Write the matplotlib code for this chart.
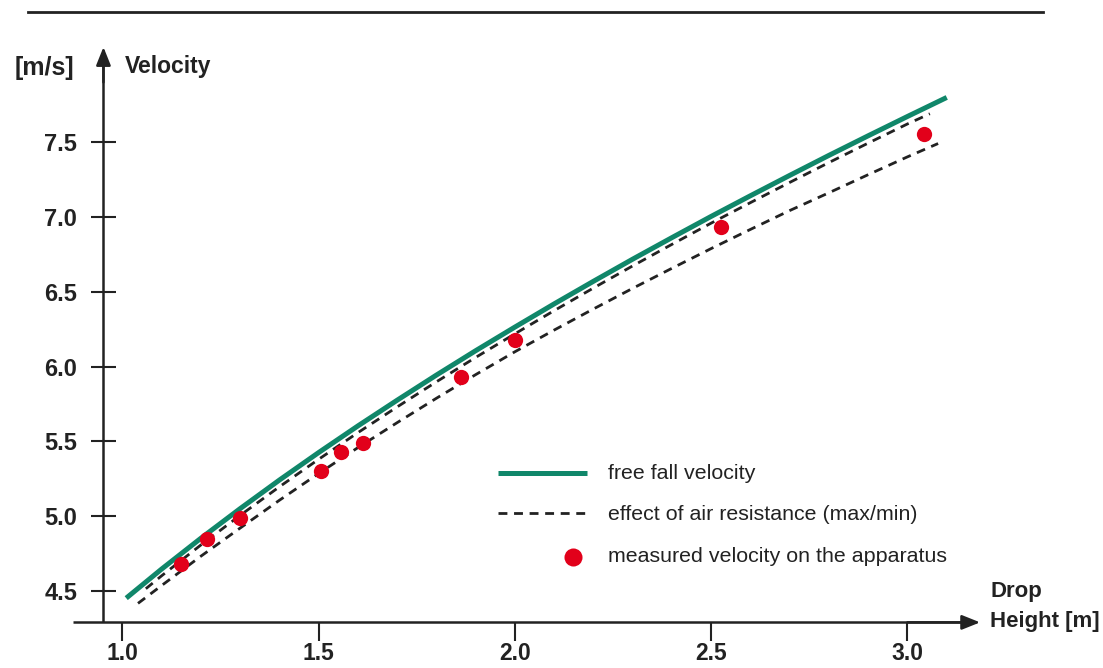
import matplotlib.pyplot as plt

# values
h_free = [1.01, 1.1, 1.2, 1.3, 1.4, 1.5, 1.6, 1.7, 1.8, 1.9, 2.0,
          2.1, 2.2, 2.3, 2.4, 2.5, 2.6, 2.7, 2.8, 2.9, 3.0, 3.1]
v_free = [4.452, 4.646, 4.852, 5.050, 5.241, 5.425, 5.603, 5.775, 5.943,
          6.106, 6.264, 6.419, 6.570, 6.718, 6.862, 7.004, 7.142, 7.278,
          7.412, 7.543, 7.672, 7.799]

h_air_max = [1.06, 1.1, 1.2, 1.3, 1.4, 1.5, 1.6, 1.7, 1.8, 1.9, 2.0,
             2.1, 2.2, 2.3, 2.4, 2.5, 2.6, 2.7, 2.8, 2.9, 3.0, 3.057]
v_air_max = [4.515, 4.601, 4.807, 5.005, 5.196, 5.380, 5.558, 5.730, 5.898,
             6.061, 6.219, 6.374, 6.525, 6.673, 6.817, 6.959, 7.096, 7.231,
             7.364, 7.494, 7.622, 7.690]

h_air_min = [1.04, 1.1, 1.2, 1.3, 1.4, 1.5, 1.6, 1.7, 1.8, 1.9, 2.0,
             2.1, 2.2, 2.3, 2.4, 2.5, 2.6, 2.7, 2.8, 2.9, 3.0, 3.078]
v_air_min = [4.417, 4.536, 4.732, 4.920, 5.106, 5.285, 5.458, 5.625, 5.788,
             5.946, 6.099, 6.244, 6.385, 6.523, 6.657, 6.789, 6.917, 7.043,
             7.162, 7.283, 7.402, 7.491]

h_meas = [1.15, 1.215, 1.30, 1.506, 1.557, 1.612, 1.863, 2.00, 2.524, 3.042]
v_meas = [4.68, 4.85, 4.99, 5.30, 5.43, 5.49, 5.93, 6.18, 6.93, 7.555]

xticks = [1.0, 1.5, 2.0, 2.5, 3.0]
yticks = [4.5, 5.0, 5.5, 6.0, 6.5, 7.0, 7.5]

labels = ['free fall velocity', 'effect of air resistance (max/min)',
          'measured velocity on the apparatus']

green = '#10876a'
red = '#e2001a'
ink = '#222222'

plt.rcParams['font.family'] = ['Liberation Sans', 'DejaVu Sans']

fig = plt.figure(figsize=(11.03, 6.68), dpi=100)
ax = fig.add_axes([0, 0, 1, 1])
ax.set_xlim(0.6885, 3.498)
ax.set_ylim(3.985, 8.4505)

# axes as crossing lines with arrows
for s in ['top', 'right']:
    ax.spines[s].set_visible(False)
ax.spines['left'].set_position(('data', 0.952))
ax.spines['left'].set_bounds(4.29, 8.05)
ax.spines['bottom'].set_position(('data', 4.29))
ax.spines['bottom'].set_bounds(0.874, 3.14)
for s in ['left', 'bottom']:
    ax.spines[s].set_linewidth(1.8)
    ax.spines[s].set_color(ink)
    ax.spines[s].set_capstyle('butt')

arrow = dict(arrowstyle='-|>,head_length=0.55,head_width=0.22', color=ink,
             lw=1.8, mutation_scale=20, shrinkA=0, shrinkB=0)
ax.annotate('', xy=(0.952, 8.136), xytext=(0.952, 7.9), arrowprops=arrow)
ax.annotate('', xy=(3.185, 4.29), xytext=(3.0, 4.29), arrowprops=arrow)

ax.set_xticks(xticks)
ax.set_xticklabels(['%.1f' % t for t in xticks])
ax.set_yticks(yticks)
ax.set_yticklabels(['%.1f' % t for t in yticks])
ax.tick_params(axis='x', direction='out', length=14, width=1.5, pad=0,
               labelsize=16.5, colors=ink)
ax.tick_params(axis='y', direction='inout', length=18, width=1.5, pad=10,
               labelsize=17, colors=ink)
for lab in ax.get_xticklabels() + ax.get_yticklabels():
    lab.set_fontweight('bold')

# data
ax.plot(h_air_max, v_air_max, color=ink, lw=2, dashes=(3.2, 2.4))
ax.plot(h_air_min, v_air_min, color=ink, lw=2, dashes=(3.2, 2.4))
ax.plot(h_free, v_free, color=green, lw=3.6, solid_capstyle='butt')
ax.plot(h_meas, v_meas, 'o', color=red, markersize=11, markeredgewidth=0)

# overlay in pixel coordinates for labels and legend
ov = fig.add_axes([0, 0, 1, 1])
ov.set_xlim(0, 1103)
ov.set_ylim(668, 0)
ov.axis('off')
ov.patch.set_alpha(0)

ov.plot([28, 1043], [11.7, 11.7], color=ink, lw=2)

ov.text(74, 68, '[m/s]', ha='right', va='center', fontsize=18,
        fontweight='bold', color=ink)
ov.text(125, 66, 'Velocity', ha='left', va='center', fontsize=16.5,
        fontweight='bold', color=ink)
ov.text(990, 592, 'Drop', ha='left', va='center', fontsize=16,
        fontweight='bold', color=ink)
ov.text(990, 622, 'Height [m]', ha='left', va='center', fontsize=16,
        fontweight='bold', color=ink)

ov.plot([498, 587], [473.3, 473.3], color=green, lw=3.6, solid_capstyle='butt')
ov.plot([498, 587], [513.3, 513.3], color=ink, lw=2, dashes=(3.2, 2.4))
ov.plot([573.3], [556.7], 'o', color=red, markersize=13, markeredgewidth=0)
for i, lab in enumerate(labels):
    ov.text(608, 473.3 + 41.7 * i, lab, ha='left', va='center', fontsize=15.4,
            color=ink)

fig.savefig('out.png', dpi=100)
